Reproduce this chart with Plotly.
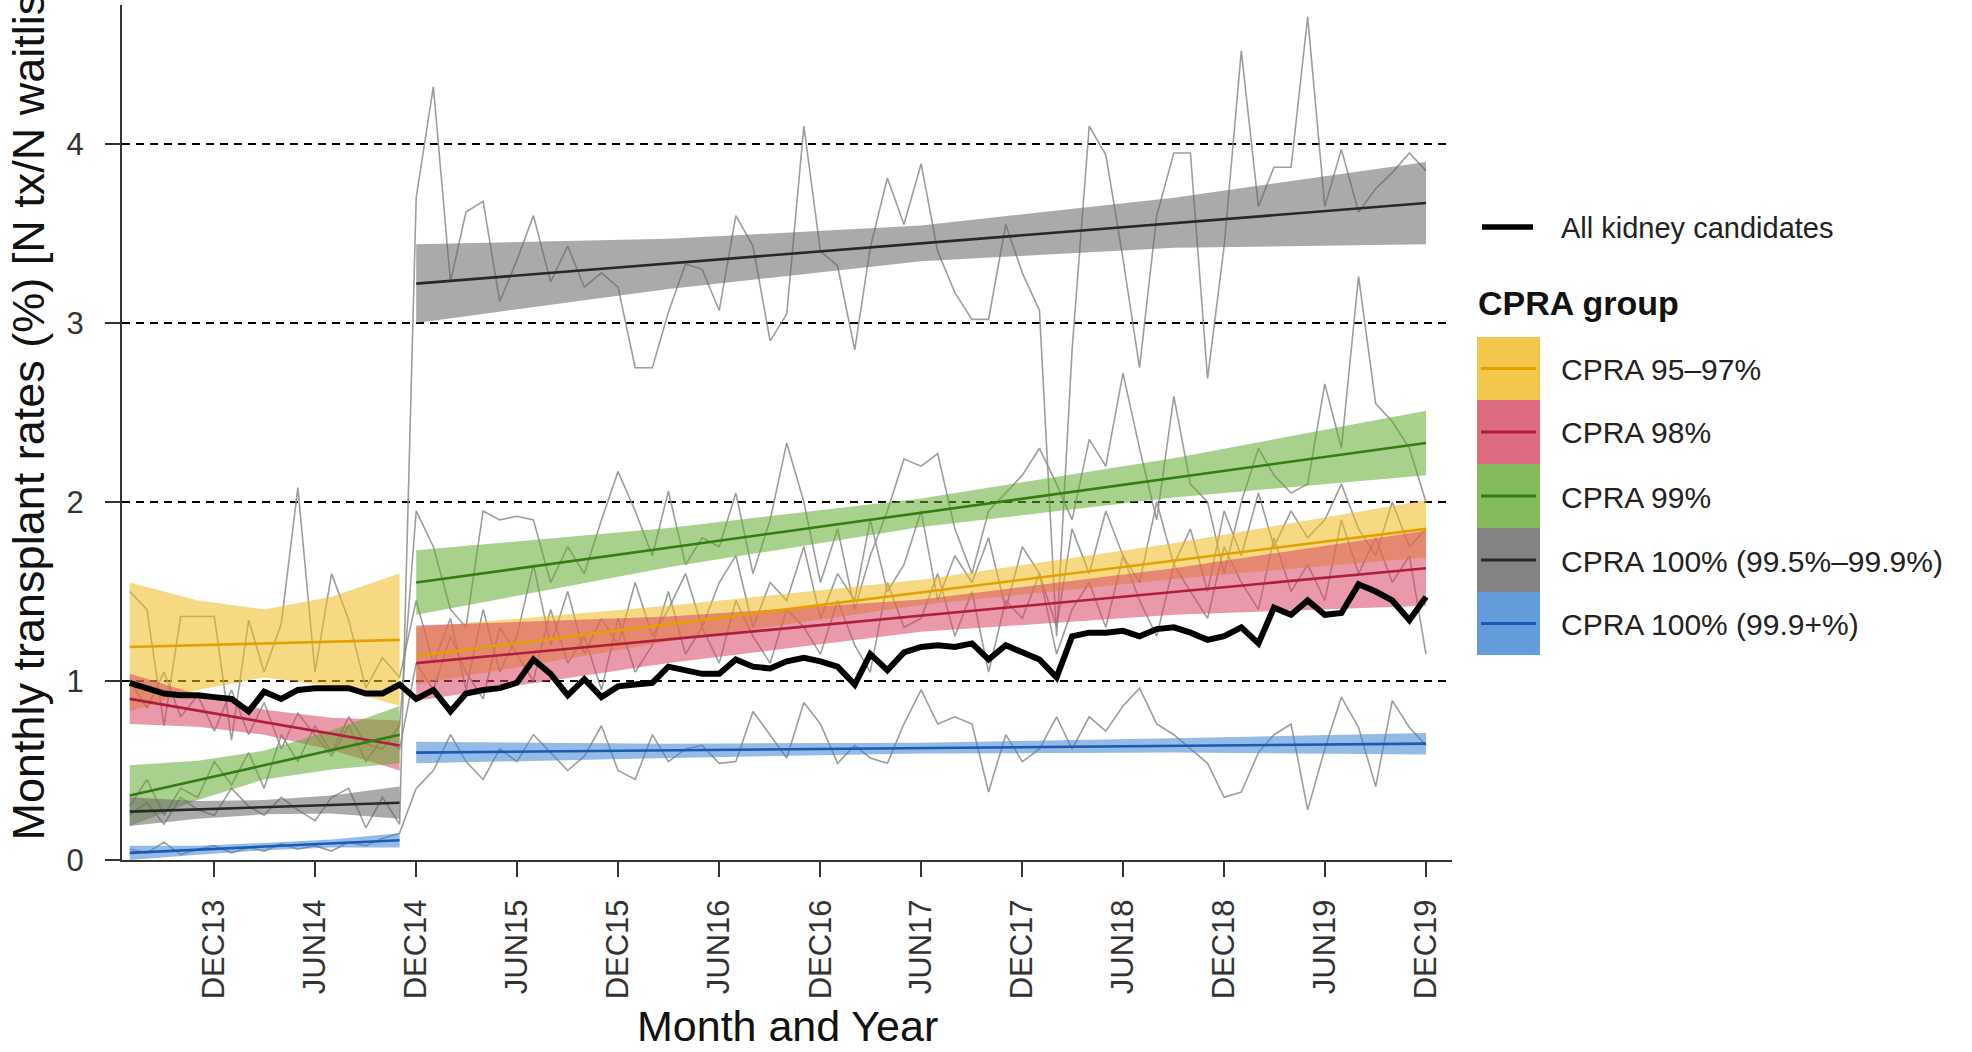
import pandas as pd
import plotly.graph_objects as go

# ---------------- data ----------------
months = pd.date_range("2013-07-01", "2019-12-01", freq="MS")  # Jul 2013 .. Dec 2019
N_PRE = 17  # Jul 2013 .. Nov 2014 (pre-KAS), then Dec 2014 .. Dec 2019

all_candidates = [
    0.99, 0.96, 0.93, 0.92, 0.92, 0.91, 0.90, 0.83, 0.94, 0.90, 0.95, 0.96, 0.96, 0.96, 0.93, 0.93, 0.98,
    0.90, 0.95, 0.83, 0.93, 0.95, 0.96, 0.99, 1.12, 1.04, 0.92, 1.01, 0.91, 0.97, 0.98, 0.99, 1.08,
    1.06, 1.04, 1.04, 1.12, 1.08, 1.07, 1.11, 1.13, 1.11, 1.08, 0.98, 1.15, 1.06, 1.16, 1.19, 1.20,
    1.19, 1.21, 1.12, 1.20, 1.16, 1.12, 1.02, 1.25, 1.27, 1.27, 1.28, 1.25, 1.29, 1.30, 1.27, 1.23,
    1.25, 1.30, 1.21, 1.41, 1.37, 1.45, 1.37, 1.38, 1.54, 1.50, 1.45, 1.34, 1.47,
]

raw_95_97 = [
    1.50, 1.40, 0.75, 1.36, 1.36, 1.36, 0.67, 1.34, 1.05, 1.32, 2.08, 1.05, 1.60, 1.34, 0.96, 1.13, 1.02,
    1.45, 1.10, 1.35, 0.95, 1.40, 1.05, 1.25, 1.65, 1.20, 1.50, 1.15, 1.35, 1.20, 1.55, 1.25, 1.40,
    1.60, 1.30, 1.55, 1.70, 1.30, 1.55, 1.45, 1.75, 1.35, 1.60, 1.45, 1.90, 1.50, 1.65, 1.95, 1.45,
    1.70, 1.55, 1.80, 1.40, 1.75, 1.60, 1.30, 1.85, 1.60, 1.95, 1.70, 1.55, 2.00, 1.65, 1.85, 1.50,
    1.95, 1.70, 2.05, 1.75, 1.95, 1.80, 1.90, 2.10, 1.85, 1.70, 2.00, 1.75, 1.85,
]
raw_98 = [
    1.00, 0.85, 1.05, 0.80, 0.92, 0.72, 0.95, 0.70, 0.88, 0.62, 0.82, 0.70, 0.58, 0.75, 0.55, 0.68, 0.62,
    1.10, 0.95, 1.25, 1.05, 0.90, 1.30, 1.15, 1.00, 1.40, 1.10, 1.25, 0.95, 1.35, 1.05, 1.20, 1.50,
    1.15, 1.30, 1.10, 1.45, 1.25, 1.10, 1.40, 1.30, 1.15, 1.45, 1.20, 1.05, 1.55, 1.30, 1.35, 1.60,
    1.25, 1.50, 1.05, 1.45, 1.35, 1.60, 1.15, 1.40, 1.55, 1.30, 1.70, 1.45, 1.25, 1.65, 1.50, 1.35,
    1.75, 1.55, 1.40, 1.80, 1.50, 1.65, 1.45, 1.90, 1.60, 1.80, 1.55, 1.70, 1.15,
]
raw_99 = [
    0.30, 0.45, 0.25, 0.40, 0.35, 0.55, 0.42, 0.60, 0.40, 0.70, 0.55, 0.75, 0.60, 0.80, 0.65, 0.62, 0.75,
    1.95, 1.75, 1.40, 1.30, 1.95, 1.90, 1.92, 1.90, 1.55, 1.75, 1.60, 1.90, 2.17, 1.95, 1.70, 2.06,
    1.65, 1.80, 1.75, 2.05, 1.60, 1.90, 2.33, 2.00, 1.55, 1.85, 1.40, 1.70, 1.95, 2.24, 2.20, 2.27,
    1.85, 1.60, 1.95, 2.05, 2.15, 2.30, 2.10, 1.90, 2.35, 2.20, 2.72, 2.30, 1.90, 2.59, 2.10, 2.00,
    1.60, 2.00, 2.30, 2.15, 2.05, 2.10, 2.66, 2.30, 3.26, 2.55, 2.45, 2.30, 2.00,
]
raw_100_low = [
    0.25, 0.32, 0.20, 0.35, 0.28, 0.25, 0.40, 0.30, 0.25, 0.35, 0.28, 0.22, 0.35, 0.40, 0.18, 0.35, 0.20,
    3.70, 4.32, 3.23, 3.62, 3.68, 3.12, 3.35, 3.60, 3.23, 3.43, 3.20, 3.28, 3.20, 2.75, 2.75, 3.06,
    3.33, 3.30, 3.07, 3.60, 3.43, 2.90, 3.05, 4.10, 3.40, 3.32, 2.85, 3.42, 3.81, 3.55, 3.89, 3.40,
    3.17, 3.02, 3.02, 3.55, 3.28, 3.07, 1.25, 2.85, 4.10, 3.94, 3.36, 2.75, 3.60, 3.95, 3.95, 2.69,
    3.43, 4.52, 3.65, 3.87, 3.87, 4.71, 3.65, 3.97, 3.62, 3.75, 3.84, 3.95, 3.85,
]
raw_100_high = [
    0.06, 0.04, 0.10, 0.03, 0.06, 0.08, 0.04, 0.07, 0.05, 0.09, 0.06, 0.08, 0.05, 0.10, 0.08, 0.12, 0.15,
    0.40, 0.50, 0.70, 0.55, 0.45, 0.62, 0.55, 0.70, 0.60, 0.50, 0.58, 0.75, 0.50, 0.45, 0.70, 0.55,
    0.62, 0.64, 0.54, 0.55, 0.83, 0.70, 0.57, 0.88, 0.76, 0.54, 0.64, 0.57, 0.54, 0.76, 0.95, 0.76,
    0.80, 0.76, 0.38, 0.70, 0.55, 0.62, 0.80, 0.62, 0.80, 0.72, 0.86, 0.96, 0.76, 0.70, 0.62, 0.54,
    0.35, 0.38, 0.60, 0.70, 0.76, 0.28, 0.62, 0.91, 0.74, 0.41, 0.89, 0.74, 0.64,
]

# linear-trend fits with confidence bands
fit_x_pre = ["2013-07-01", "2014-11-01"]
fit_x_post = ["2014-12-01", "2019-12-01"]
band_x_pre = ["2013-07-01", "2013-11-01", "2014-03-01", "2014-07-01", "2014-11-01"]
band_x_post = ["2014-12-01", "2016-03-01", "2017-06-01", "2018-09-01", "2019-12-01"]

fit_95_97_pre = [1.19, 1.23]
lo_95_97_pre = [0.83, 0.95, 1.02, 0.97, 0.86]
hi_95_97_pre = [1.55, 1.45, 1.40, 1.47, 1.60]
fit_95_97_post = [1.14, 1.85]
lo_95_97_post = [0.98, 1.22, 1.425, 1.57, 1.69]
hi_95_97_post = [1.30, 1.42, 1.565, 1.77, 2.01]

fit_98_pre = [0.90, 0.64]
lo_98_pre = [0.76, 0.745, 0.70, 0.615, 0.50]
hi_98_pre = [1.04, 0.925, 0.84, 0.795, 0.78]
fit_98_post = [1.10, 1.63]
lo_98_post = [0.89, 1.10, 1.275, 1.37, 1.42]
hi_98_post = [1.31, 1.36, 1.455, 1.63, 1.84]

fit_99_pre = [0.36, 0.70]
lo_99_pre = [0.19, 0.335, 0.45, 0.505, 0.54]
hi_99_pre = [0.53, 0.555, 0.61, 0.725, 0.86]
fit_99_post = [1.55, 2.33]
lo_99_post = [1.37, 1.635, 1.86, 2.025, 2.15]
hi_99_post = [1.73, 1.855, 2.02, 2.245, 2.51]

fit_100_low_pre = [0.27, 0.32]
lo_100_low_pre = [0.19, 0.23, 0.255, 0.26, 0.23]
hi_100_low_pre = [0.35, 0.33, 0.335, 0.36, 0.41]
fit_100_low_post = [3.22, 3.67]
lo_100_low_post = [3.00, 3.19, 3.345, 3.42, 3.44]
hi_100_low_post = [3.44, 3.47, 3.545, 3.70, 3.90]

fit_100_high_pre = [0.04, 0.11]
lo_100_high_pre = [0.00, 0.03, 0.055, 0.07, 0.07]
hi_100_high_pre = [0.08, 0.08, 0.095, 0.115, 0.15]
fit_100_high_post = [0.60, 0.65]
lo_100_high_post = [0.54, 0.57, 0.595, 0.60, 0.59]
hi_100_high_post = [0.66, 0.65, 0.655, 0.68, 0.71]

group_labels = ["CPRA 95\u201397%", "CPRA 98%", "CPRA 99%",
                "CPRA 100% (99.5%\u201399.9%)", "CPRA 100% (99.9+%)"]
tick_dates = ["2013-12-01", "2014-06-01", "2014-12-01", "2015-06-01", "2015-12-01", "2016-06-01",
              "2016-12-01", "2017-06-01", "2017-12-01", "2018-06-01", "2018-12-01", "2019-06-01",
              "2019-12-01"]
tick_labels = ["DEC13", "JUN14", "DEC14", "JUN15", "DEC15", "JUN16", "DEC16", "JUN17", "DEC17",
               "JUN18", "DEC18", "JUN19", "DEC19"]
y_ticks = [0, 1, 2, 3, 4]

# ---------------- styling ----------------
FONT = "Liberation Sans, Arial, Helvetica, sans-serif"
W, H = 1972, 1052
L, R, T, B = 122, 1452, 5, 860
base = {
    "95_97": (240, 185, 30), "98": (215, 70, 100), "99": (100, 170, 50),
    "100_low": (100, 100, 100), "100_high": (60, 130, 210),
}
line_col = {
    "95_97": "rgb(228,160,0)", "98": "rgb(175,30,60)", "99": "rgb(50,125,20)",
    "100_low": "rgb(40,40,40)", "100_high": "rgb(25,90,180)",
}

def rgba(c, a):
    return f"rgba({c[0]},{c[1]},{c[2]},{a})"

def px(x):
    return (x - L) / (R - L)

def py(y):
    return (B - y) / (B - T)

fig = go.Figure()

# raw monthly rates per group (thin grey)
for series in [raw_95_97, raw_98, raw_99, raw_100_low, raw_100_high]:
    fig.add_trace(go.Scatter(x=months, y=series, mode="lines",
                             line=dict(color="rgba(140,140,140,0.85)", width=1.6),
                             hoverinfo="skip", showlegend=False))

groups = [
    ("95_97", fit_95_97_pre, lo_95_97_pre, hi_95_97_pre, fit_95_97_post, lo_95_97_post, hi_95_97_post),
    ("98", fit_98_pre, lo_98_pre, hi_98_pre, fit_98_post, lo_98_post, hi_98_post),
    ("99", fit_99_pre, lo_99_pre, hi_99_pre, fit_99_post, lo_99_post, hi_99_post),
    ("100_low", fit_100_low_pre, lo_100_low_pre, hi_100_low_pre,
     fit_100_low_post, lo_100_low_post, hi_100_low_post),
    ("100_high", fit_100_high_pre, lo_100_high_pre, hi_100_high_pre,
     fit_100_high_post, lo_100_high_post, hi_100_high_post),
]

for key, fpre, lpre, hpre, fpost, lpost, hpost in groups:
    for bx, lo, hi in [(band_x_pre, lpre, hpre), (band_x_post, lpost, hpost)]:
        fig.add_trace(go.Scatter(x=bx + bx[::-1], y=hi + lo[::-1], mode="lines",
                                 fill="toself", fillcolor=rgba(base[key], 0.55),
                                 line=dict(width=0), hoverinfo="skip", showlegend=False))

for key, fpre, lpre, hpre, fpost, lpost, hpost in groups:
    for fx, fy in [(fit_x_pre, fpre), (fit_x_post, fpost)]:
        fig.add_trace(go.Scatter(x=fx, y=fy, mode="lines",
                                 line=dict(color=line_col[key], width=2.6),
                                 hoverinfo="skip", showlegend=False))

fig.add_trace(go.Scatter(x=months, y=all_candidates, mode="lines",
                         line=dict(color="black", width=6),
                         hoverinfo="skip", showlegend=False))

# ---------------- legend (drawn) ----------------
shapes = []
annotations = []
shapes.append(dict(type="line", xref="paper", yref="paper", x0=px(1482), x1=px(1533),
                   y0=py(227), y1=py(227), line=dict(color="black", width=5.5)))
annotations.append(dict(xref="paper", yref="paper", x=px(1559), y=py(228), xanchor="left",
                        yanchor="middle", text="All kidney candidates", showarrow=False,
                        font=dict(family=FONT, size=29, color="#222")))
annotations.append(dict(xref="paper", yref="paper", x=px(1476), y=py(303), xanchor="left",
                        yanchor="middle", text="<b>CPRA group</b>", showarrow=False,
                        font=dict(family=FONT, size=34, color="#111")))
row_edges = [337, 400, 464, 528, 592, 655]
for i, key in enumerate(["95_97", "98", "99", "100_low", "100_high"]):
    y0, y1 = row_edges[i], row_edges[i + 1]
    yc = (y0 + y1) / 2
    shapes.append(dict(type="rect", xref="paper", yref="paper", x0=px(1477), x1=px(1540),
                       y0=py(y1), y1=py(y0), fillcolor=rgba(base[key], 0.8), line=dict(width=0)))
    shapes.append(dict(type="line", xref="paper", yref="paper", x0=px(1481), x1=px(1536),
                       y0=py(yc), y1=py(yc), line=dict(color=line_col[key], width=3)))
    annotations.append(dict(xref="paper", yref="paper", x=px(1559), y=py(yc + 1), xanchor="left",
                            yanchor="middle", text=group_labels[i], showarrow=False,
                            font=dict(family=FONT, size=30, color="#222")))

# axis titles
annotations.append(dict(xref="paper", yref="paper", x=0.5, y=py(1026), xanchor="center",
                        yanchor="middle", text="Month and Year", showarrow=False,
                        font=dict(family=FONT, size=43, color="#111")))
annotations.append(dict(xref="paper", yref="paper", x=px(28), y=py(843), xanchor="center",
                        yanchor="bottom", textangle=-90,
                        text="Monthly transplant rates (%) [N tx/N waitlist]", showarrow=False,
                        font=dict(family=FONT, size=45, color="#111")))

fig.update_layout(
    width=W, height=H,
    margin=dict(l=L, r=W - R, t=T, b=H - B, pad=0),
    paper_bgcolor="white", plot_bgcolor="white",
    shapes=shapes, annotations=annotations, showlegend=False,
    font=dict(family=FONT, color="#333"),
)
fig.update_xaxes(
    type="date", range=["2013-06-17", "2020-01-17"],
    tickmode="array", tickvals=tick_dates, ticktext=tick_labels, tickangle=-90,
    tickfont=dict(family=FONT, size=31, color="#333"),
    ticks="outside", ticklen=15, tickwidth=2, tickcolor="#333",
    showline=True, linecolor="#333", linewidth=2, showgrid=False, zeroline=False,
    ticklabelstandoff=10,
)
fig.update_yaxes(
    range=[0, (B - T) / 179.0],
    tickmode="array", tickvals=y_ticks, ticktext=[str(v) for v in y_ticks],
    tickfont=dict(family=FONT, size=31, color="#333"),
    ticks="outside", ticklen=15, tickwidth=2, tickcolor="#333",
    showline=True, linecolor="#333", linewidth=2,
    showgrid=True, gridcolor="black", gridwidth=2, griddash="8px,6px", zeroline=False,
    ticklabelstandoff=15,
)

fig.write_html("out.html")
